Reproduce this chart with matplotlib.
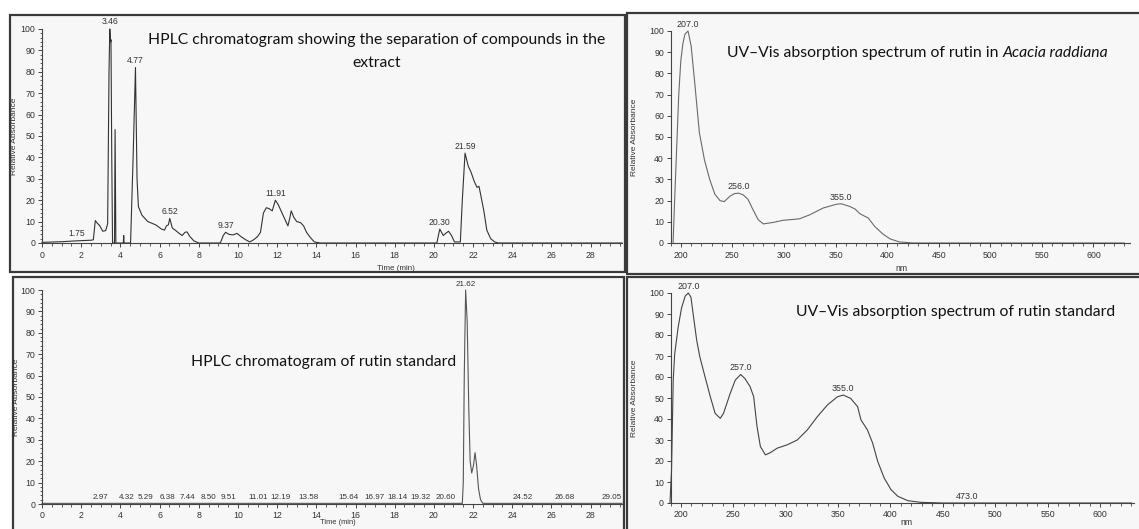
import numpy as np
import matplotlib
matplotlib.use("Agg")
import matplotlib.pyplot as plt
from matplotlib.patches import Rectangle
from matplotlib.ticker import MultipleLocator

# ---------------- data ----------------
# Extract chromatogram (time in min, relative absorbance)
ext_time = [0.0, 1.0, 1.75, 2.5, 2.62, 2.72, 2.8, 2.95, 3.1, 3.25, 3.35, 3.42, 3.46, 3.50, 3.52,
            3.56, 3.60, 3.70, 3.73, 3.77, 4.15, 4.17, 4.19, 4.52, 4.65, 4.77, 4.85, 4.92, 5.1,
            5.4, 5.8, 6.1, 6.25, 6.35, 6.45, 6.52, 6.65, 6.8, 7.0, 7.15, 7.3, 7.4, 7.55, 7.75,
            8.0, 9.1, 9.25, 9.37, 9.55, 9.75, 9.95, 10.15, 10.4, 10.6, 10.8, 11.0, 11.15, 11.3,
            11.45, 11.6, 11.75, 11.91, 12.05, 12.2, 12.4, 12.55, 12.63, 12.72, 12.85, 13.0, 13.2,
            13.35, 13.5, 13.7, 13.9, 14.2, 20.15, 20.30, 20.48, 20.6, 20.75, 20.9, 21.05, 21.35,
            21.45, 21.59, 21.75, 21.9, 22.05, 22.2, 22.3, 22.4, 22.55, 22.7, 22.9, 23.1, 23.3, 29.6]
ext_abs = [0.3, 0.6, 1.0, 1.3, 1.5, 10.5, 9.5, 8.0, 5.5, 5.8, 9, 80, 100, 94, 95,
           40, 0, 0, 53, 0, 0, 3.5, 0, 0, 40, 82, 30, 17, 13,
           10, 8.5, 6.5, 6.0, 8.0, 8.5, 11.5, 7, 6, 4.5, 3.5, 5, 5.2, 3, 1,
           0, 0, 3.5, 5, 4, 3.8, 4.5, 3, 1.5, 0.5, 1.5, 3, 5, 14,
           16.5, 16, 15, 20, 18, 15, 11, 8, 11, 15, 12, 10, 9.5,
           8, 5, 2.5, 0.5, 0, 0, 6.5, 3.5, 4.5, 5.5, 3.5, 0.5, 0.5,
           20, 42, 36, 33, 29, 26, 26.5, 22, 15, 6, 2, 0.5, 0, 0]
ext_peak_labels = ["1.75", "3.46", "4.77", "6.52", "9.37", "11.91", "20.30", "21.59"]
ext_peak_times = [1.75, 3.46, 4.77, 6.52, 9.37, 11.91, 20.30, 21.59]
ext_peak_heights = [1.0, 100, 82, 11.5, 5, 20, 6.5, 42]

# Rutin standard chromatogram
std_time = [0.0, 21.45, 21.5, 21.55, 21.62, 21.7, 21.78, 21.85, 21.93, 22.02, 22.1, 22.18,
            22.28, 22.38, 22.5, 29.6]
std_abs = [0.3, 0.3, 10, 60, 100, 85, 45, 20, 14.5, 18, 24, 18, 7, 2, 0.3, 0.3]
std_peak_times = [2.97, 4.32, 5.29, 6.38, 7.44, 8.50, 9.51, 11.01, 12.19, 13.58, 15.64, 16.97,
                  18.14, 19.32, 20.60, 21.62, 24.52, 26.68, 29.05]
std_peak_labels = ["2.97", "4.32", "5.29", "6.38", "7.44", "8.50", "9.51", "11.01", "12.19",
                   "13.58", "15.64", "16.97", "18.14", "19.32", "20.60", "21.62", "24.52",
                   "26.68", "29.05"]
std_peak_heights = [0.3] * 15 + [100] + [0.3] * 3

# UV-Vis spectrum of rutin in extract
uv1_nm = [192.5, 194, 196, 198, 200, 202, 204, 207, 210, 213.6, 218, 223, 228, 233, 238, 242,
          247.5, 252, 256, 260.5, 265, 270, 275, 280, 289.5, 299, 315, 325, 338, 351, 355, 357,
          364, 369, 373.6, 381.7, 388, 396, 403, 412, 425, 630]
uv1_abs = [0, 20, 45, 70, 86, 94, 98.5, 100, 93, 75, 52, 39, 30, 23, 20, 19.5,
           22, 23.3, 23.5, 22.7, 20.7, 15.7, 11, 9, 9.7, 10.7, 11.4, 13.3, 16.5, 18.3, 18.5, 18.3,
           17.2, 16, 13.8, 11.8, 7.8, 4.2, 1.9, 0.5, 0, 0]
uv1_peak_nm = [207, 256, 355]
uv1_peak_labels = ["207.0", "256.0", "355.0"]
uv1_peak_abs = [100, 23.5, 18.5]

# UV-Vis spectrum of rutin standard
uv2_nm = [189.5, 191, 192.6, 194, 197.4, 200.6, 204, 207, 209.5, 212, 215, 218, 223, 228, 232.6,
          237.5, 240.6, 247, 251.8, 257, 261, 266, 269.4, 272.6, 275.8, 280.6, 285.4, 291.8,
          301.4, 311, 320.6, 330, 339.8, 349.4, 355, 362, 368.6, 371.8, 378, 383, 387.8, 394,
          400.6, 407, 416.6, 429, 450, 630]
uv2_abs = [0, 15.8, 58.5, 71, 84, 93, 98.5, 100, 98, 88.6, 77.5, 69.6, 60, 50.6, 42.7,
           40.3, 42.7, 52.2, 58.5, 61.2, 59.3, 55.4, 50.6, 36.4, 26.9, 22.9, 24, 26.1,
           27.7, 30, 34.8, 41, 46.7, 50.6, 51.4, 49.8, 45.9, 39.6, 34.8, 28.5, 19.8, 11.9,
           6.3, 3.2, 1.1, 0.3, 0, 0]
uv2_peak_nm = [207, 257, 355, 473]
uv2_peak_labels = ["207.0", "257.0", "355.0", "473.0"]
uv2_peak_abs = [100, 61.2, 51.4, 0]

titles = {
    "tl1": "HPLC chromatogram showing the separation of compounds in the",
    "tl2": "extract",
    "tr_a": "UV\u2013Vis absorption spectrum of rutin in ",
    "tr_b": "Acacia raddiana",
    "bl": "HPLC chromatogram of rutin standard",
    "br": "UV\u2013Vis absorption spectrum of rutin standard",
}

# ---------------- figure ----------------
W, H = 1139, 529
fig = plt.figure(figsize=(W / 100, H / 100), dpi=100)
fig.patch.set_facecolor("white")

def fx(x):
    return x / W

def fy(y):
    return 1 - y / H

PANEL_BG = "#f7f7f7"
BORDER = "#3a3a3a"
for (x0, y0, x1, y1) in [(10, 15, 625, 272), (13, 277, 624, 532),
                         (627, 13, 1142, 274), (627, 277, 1142, 532)]:
    fig.add_artist(Rectangle((fx(x0), fy(y1)), fx(x1 - x0), (y1 - y0) / H,
                             transform=fig.transFigure, facecolor=PANEL_BG,
                             edgecolor=BORDER, linewidth=1.6, zorder=-5))

TICK_FONT = ["Liberation Sans", "DejaVu Sans"]
TITLE_FONT = ["Lato", "DejaVu Sans"]
AX_COL = "#444444"


def style_axes(ax, xmaj, xmin, ymaj, ymin=None, xpad=2.5):
    ax.patch.set_alpha(0)
    for s in ["top", "right"]:
        ax.spines[s].set_visible(False)
    for s in ["left", "bottom"]:
        ax.spines[s].set_color(AX_COL)
        ax.spines[s].set_linewidth(0.8)
    ax.xaxis.set_major_locator(MultipleLocator(xmaj))
    ax.xaxis.set_minor_locator(MultipleLocator(xmin))
    ax.yaxis.set_major_locator(MultipleLocator(ymaj))
    if ymin:
        ax.yaxis.set_minor_locator(MultipleLocator(ymin))
    ax.tick_params(which="major", length=3.2, width=0.7, color=AX_COL, labelsize=6.3,
                   labelcolor="#333333", pad=1.5)
    ax.tick_params(axis="x", which="major", pad=xpad)
    ax.tick_params(which="minor", length=1.8, width=0.6, color=AX_COL)
    for lab in ax.get_xticklabels() + ax.get_yticklabels():
        lab.set_family(TICK_FONT)


def chrom_axes(rect, xpad, xlabsize):
    ax = fig.add_axes(rect)
    ax.set_xlim(0, 29.6)
    ax.set_ylim(0, 100)
    style_axes(ax, 2, 0.5, 10, 2, xpad)
    ax.set_xticks(np.arange(0, 29, 2))
    ax.set_ylabel("Relative Absorbance", fontsize=6, family=TICK_FONT, color="#333")
    ax.set_xlabel("Time (min)", fontsize=xlabsize, family=TICK_FONT, color="#333")
    return ax


def spec_axes(rect, xmax, xpad):
    ax = fig.add_axes(rect)
    ax.set_xlim(190, xmax)
    ax.set_ylim(0, 100)
    style_axes(ax, 50, 10, 10, None, xpad)
    ax.set_xticks(np.arange(200, 601, 50))
    ax.set_ylabel("Relative Absorbance", fontsize=6, family=TICK_FONT, color="#333")
    ax.set_xlabel("nm", fontsize=6.2, family=TICK_FONT, color="#333")
    return ax

# Top-left chromatogram
ax1 = chrom_axes([fx(42), fy(243), 580 / W, 214 / H], 2.5, 5.8)
ax1.plot(ext_time, ext_abs, color="#333333", lw=0.8, clip_on=False)
for t, h, s in zip(ext_peak_times, ext_peak_heights, ext_peak_labels):
    ax1.text(t, h + 1.2, s, ha="center", va="bottom", fontsize=6.2, family=TICK_FONT,
             color="#333", clip_on=False)
ax1.yaxis.set_label_coords(-0.041, 0.5)
ax1.xaxis.set_label_coords(0.61, -0.105)

# Bottom-left chromatogram
ax3 = chrom_axes([fx(42), fy(504), 580 / W, 214 / H], 1.8, 5.4)
ax3.plot(std_time, std_abs, color="#555555", lw=0.8, clip_on=False)
for t, h, s in zip(std_peak_times, std_peak_heights, std_peak_labels):
    ax3.text(t, h + 1.0, s, ha="center", va="bottom", fontsize=5.8, family=TICK_FONT,
             color="#333", clip_on=False)
ax3.yaxis.set_label_coords(-0.038, 0.5)
ax3.xaxis.set_label_coords(0.51, -0.068)

# Top-right spectrum
ax2 = spec_axes([fx(670.5), fy(243), 459 / W, 212 / H], 635, 2.5)
ax2.plot(uv1_nm, uv1_abs, color="#6a6a6a", lw=0.8, clip_on=False)
for t, h, s in zip(uv1_peak_nm, uv1_peak_abs, uv1_peak_labels):
    ax2.text(t, h + 1.0, s, ha="center", va="bottom", fontsize=6.4, family=TICK_FONT,
             color="#333", clip_on=False)
ax2.yaxis.set_label_coords(-0.07, 0.5)
ax2.xaxis.set_label_coords(0.504, -0.1)

# Bottom-right spectrum
ax4 = spec_axes([fx(670.5), fy(503), 463 / W, 210 / H], 632, 1.8)
ax4.plot(uv2_nm, uv2_abs, color="#444444", lw=0.8, clip_on=False)
for t, h, s in zip(uv2_peak_nm, uv2_peak_abs, uv2_peak_labels):
    ax4.text(t, h + 1.0, s, ha="center", va="bottom", fontsize=6.4, family=TICK_FONT,
             color="#333", clip_on=False)
ax4.yaxis.set_label_coords(-0.07, 0.5)
ax4.xaxis.set_label_coords(0.509, -0.072)

# Titles
TS = 11.3
fig.text(fx(377), fy(40), titles["tl1"], ha="center", va="center", fontsize=TS,
         family=TITLE_FONT, color="#111")
fig.text(fx(377), fy(63), titles["tl2"], ha="center", va="center", fontsize=TS,
         family=TITLE_FONT, color="#111")
fig.text(fx(324), fy(362), titles["bl"], ha="center", va="center", fontsize=TS,
         family=TITLE_FONT, color="#111")
fig.text(fx(796), fy(312), titles["br"], ha="left", va="center", fontsize=TS,
         family=TITLE_FONT, color="#111")
ta = fig.text(fx(727), fy(53), titles["tr_a"], ha="left", va="center", fontsize=TS,
              family=TITLE_FONT, color="#111")
fig.canvas.draw()
bb = ta.get_window_extent(renderer=fig.canvas.get_renderer())
fig.text(bb.x1 / fig.bbox.width, fy(53), titles["tr_b"], ha="left", va="center",
         fontsize=TS, family=TITLE_FONT, style="italic", color="#111")

fig.savefig("out.png", dpi=100)
